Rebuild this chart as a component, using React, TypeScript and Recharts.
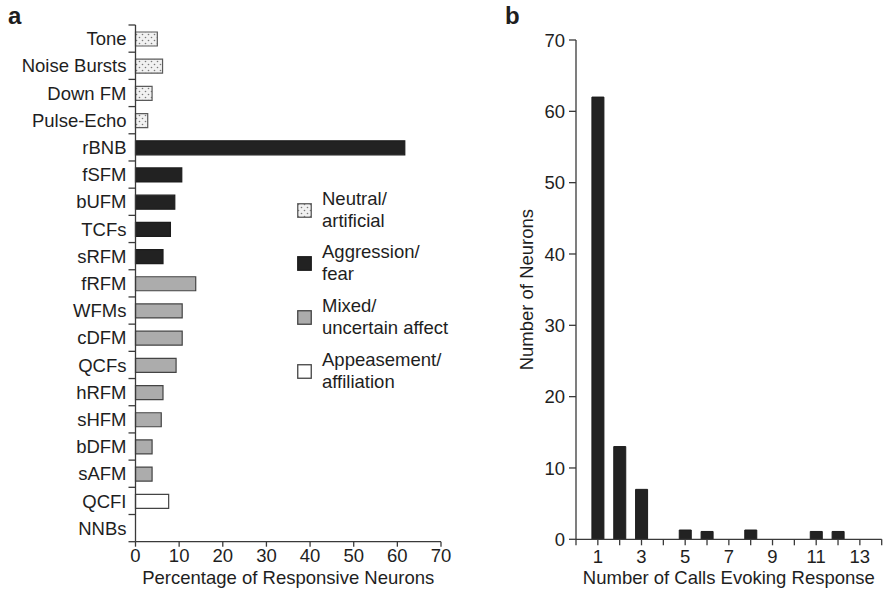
import React from 'react';
import { Bar, BarChart, Cell, Label, XAxis, YAxis } from 'recharts';

// Panel a: share of responsive neurons per call type
const callTypes = [
  'Tone', 'Noise Bursts', 'Down FM', 'Pulse-Echo', 'rBNB', 'fSFM', 'bUFM', 'TCFs', 'sRFM',
  'fRFM', 'WFMs', 'cDFM', 'QCFs', 'hRFM', 'sHFM', 'bDFM', 'sAFM', 'QCFI', 'NNBs',
];
const responsivePct = [5.0, 6.2, 3.8, 2.8, 61.7, 10.6, 9.0, 8.0, 6.3, 13.8, 10.7, 10.7, 9.3, 6.3, 5.9, 3.8, 3.8, 7.6, 0];
const callGroups = [
  'neutral', 'neutral', 'neutral', 'neutral',
  'aggression', 'aggression', 'aggression', 'aggression', 'aggression',
  'mixed', 'mixed', 'mixed', 'mixed', 'mixed', 'mixed', 'mixed', 'mixed',
  'appeasement', 'appeasement',
];
const groupKeys = ['neutral', 'aggression', 'mixed', 'appeasement'];
const groupLabels = [
  ['Neutral/', 'artificial'],
  ['Aggression/', 'fear'],
  ['Mixed/', 'uncertain affect'],
  ['Appeasement/', 'affiliation'],
];
const pctTicks = [0, 10, 20, 30, 40, 50, 60, 70];

// Panel b: how many call types drive each neuron
const callsEvoking = [1, 2, 3, 5, 6, 8, 11, 12];
const neuronCounts = [62, 13, 7, 1.3, 1.1, 1.3, 1.1, 1.1];
const neuronTicks = [0, 10, 20, 30, 40, 50, 60, 70];
const callCountTicks = [0, 1, 2, 3, 4, 5, 6, 7, 8, 9, 10, 11, 12, 13, 14];

const FONT = '"Liberation Sans", Arial, Helvetica, sans-serif';
const FS = 18.5;
const TEXT = '#1e1e1e';
const AXIS = '#3a3a3a';

const groupFill: Record<string, string> = {
  neutral: 'url(#dots)',
  aggression: '#222222',
  mixed: '#acacac',
  appeasement: '#ffffff',
};
const groupStroke: Record<string, string> = {
  neutral: '#5a5a5a',
  aggression: '#1c1c1c',
  mixed: '#444444',
  appeasement: '#444444',
};

const pctData = callTypes.map((name, i) => ({ name, pct: responsivePct[i], group: callGroups[i] }));
const countData = callsEvoking.map((calls, i) => ({ calls, neurons: neuronCounts[i] }));

// left panel geometry
const A_W = 470;
const A_H = 589;
const A_TOP = 25;
const A_XAXIS_H = 47.3;
const A_PLOT_H = A_H - A_TOP - A_XAXIS_H;
const BAND = A_PLOT_H / callTypes.length;

// category labels with tick marks on the band boundaries
const CallTick = (props: any) => {
  const { x, y, payload, index } = props;
  const axisX = x + 9;
  const last = index === callTypes.length - 1;
  return (
    <g>
      <line x1={axisX - 7} x2={axisX} y1={y - BAND / 2} y2={y - BAND / 2} stroke={AXIS} strokeWidth={1.3} />
      {last && <line x1={axisX - 7} x2={axisX} y1={y + BAND / 2} y2={y + BAND / 2} stroke={AXIS} strokeWidth={1.3} />}
      <text x={x} y={y} dy="0.36em" textAnchor="end" fontSize={FS} fill={TEXT} fontFamily={FONT}>
        {payload.value}
      </text>
    </g>
  );
};

const tickStyle = { fontSize: FS, fill: TEXT, fontFamily: FONT };
const axisLine = { stroke: AXIS, strokeWidth: 1.3 };

const Swatch = ({ group }: { group: string }) => (
  <svg width={15} height={15} style={{ position: 'absolute', left: 0, top: 15 }}>
    <rect x={0.75} y={0.75} width={13.5} height={13.5} fill={groupFill[group]} stroke={groupStroke[group]} strokeWidth={1.3} />
  </svg>
);

export default function App() {
  return (
    <div style={{ position: 'relative', width: 884, height: 589, background: '#fff', fontFamily: FONT, color: TEXT }}>
      <style>{'body{margin:0}'}</style>
      <svg width={0} height={0} style={{ position: 'absolute' }}>
        <defs>
          <pattern id="dots" width={6} height={6} patternUnits="userSpaceOnUse">
            <rect width={6} height={6} fill="#f1f1f1" />
            <circle cx={1.5} cy={1.5} r={0.8} fill="#7a7a7a" />
            <circle cx={4.5} cy={4.5} r={0.8} fill="#7a7a7a" />
          </pattern>
        </defs>
      </svg>

      <div style={{ position: 'absolute', left: 8, top: 2, fontSize: 24, fontWeight: 'bold' }}>a</div>
      <div style={{ position: 'absolute', left: 505, top: 2, fontSize: 24, fontWeight: 'bold' }}>b</div>

      <div style={{ position: 'absolute', left: 0, top: 0 }}>
        <BarChart
          width={A_W}
          height={A_H}
          data={pctData}
          layout="vertical"
          margin={{ top: A_TOP, right: 29, bottom: 0, left: 0 }}
          barCategoryGap={0}
        >
          <XAxis
            type="number"
            domain={[0, 70]}
            ticks={pctTicks}
            height={A_XAXIS_H}
            tick={tickStyle}
            tickSize={5}
            tickMargin={2}
            axisLine={axisLine}
            tickLine={axisLine}
          >
            <Label value="Percentage of Responsive Neurons" position="insideBottom" offset={5} style={{ fontSize: FS, fill: TEXT, fontFamily: FONT }} />
          </XAxis>
          <YAxis
            type="category"
            dataKey="name"
            width={135.5}
            interval={0}
            tick={<CallTick />}
            tickSize={7}
            tickMargin={2}
            tickLine={false}
            axisLine={axisLine}
          />
          <Bar dataKey="pct" barSize={14} isAnimationActive={false}>
            {pctData.map((d, i) => (
              <Cell key={i} fill={groupFill[d.group]} stroke={groupStroke[d.group]} strokeWidth={1.2} />
            ))}
          </Bar>
        </BarChart>
      </div>

      <div style={{ position: 'absolute', left: 297, top: 0, width: 175, height: 589 }}>
        {groupKeys.map((g, i) => (
          <div key={g} style={{ position: 'absolute', left: 0, top: 187.5 + i * 53.9, width: 175 }}>
            <Swatch group={g} />
            <div style={{ marginLeft: 25, fontSize: FS, lineHeight: '22px', whiteSpace: 'nowrap' }}>
              {groupLabels[i][0]}
              <br />
              {groupLabels[i][1]}
            </div>
          </div>
        ))}
      </div>

      <div style={{ position: 'absolute', left: 480, top: 0 }}>
        <BarChart width={404} height={589} data={countData} margin={{ top: 40, right: 2.3, bottom: 0, left: 0 }}>
          <XAxis
            type="number"
            dataKey="calls"
            domain={[0, 14]}
            ticks={callCountTicks}
            interval={0}
            tickFormatter={(v: number) => (v % 2 === 1 ? String(v) : '')}
            height={49.7}
            tick={tickStyle}
            tickSize={6}
            tickMargin={5}
            axisLine={axisLine}
            tickLine={axisLine}
          >
            <Label value="Number of Calls Evoking Response" position="insideBottom" offset={5} style={{ fontSize: FS, fill: TEXT, fontFamily: FONT }} />
          </XAxis>
          <YAxis
            type="number"
            domain={[0, 70]}
            ticks={neuronTicks}
            interval={0}
            width={96}
            tick={tickStyle}
            tickSize={7}
            tickMargin={4}
            axisLine={axisLine}
            tickLine={axisLine}
          >
            <Label
              value="Number of Neurons"
              angle={-90}
              position="insideLeft"
              offset={46}
              style={{ fontSize: FS, fill: TEXT, fontFamily: FONT, textAnchor: 'middle' }}
            />
          </YAxis>
          <Bar dataKey="neurons" barSize={12} fill="#222222" stroke="#1c1c1c" strokeWidth={1} isAnimationActive={false} />
        </BarChart>
      </div>
    </div>
  );
}
